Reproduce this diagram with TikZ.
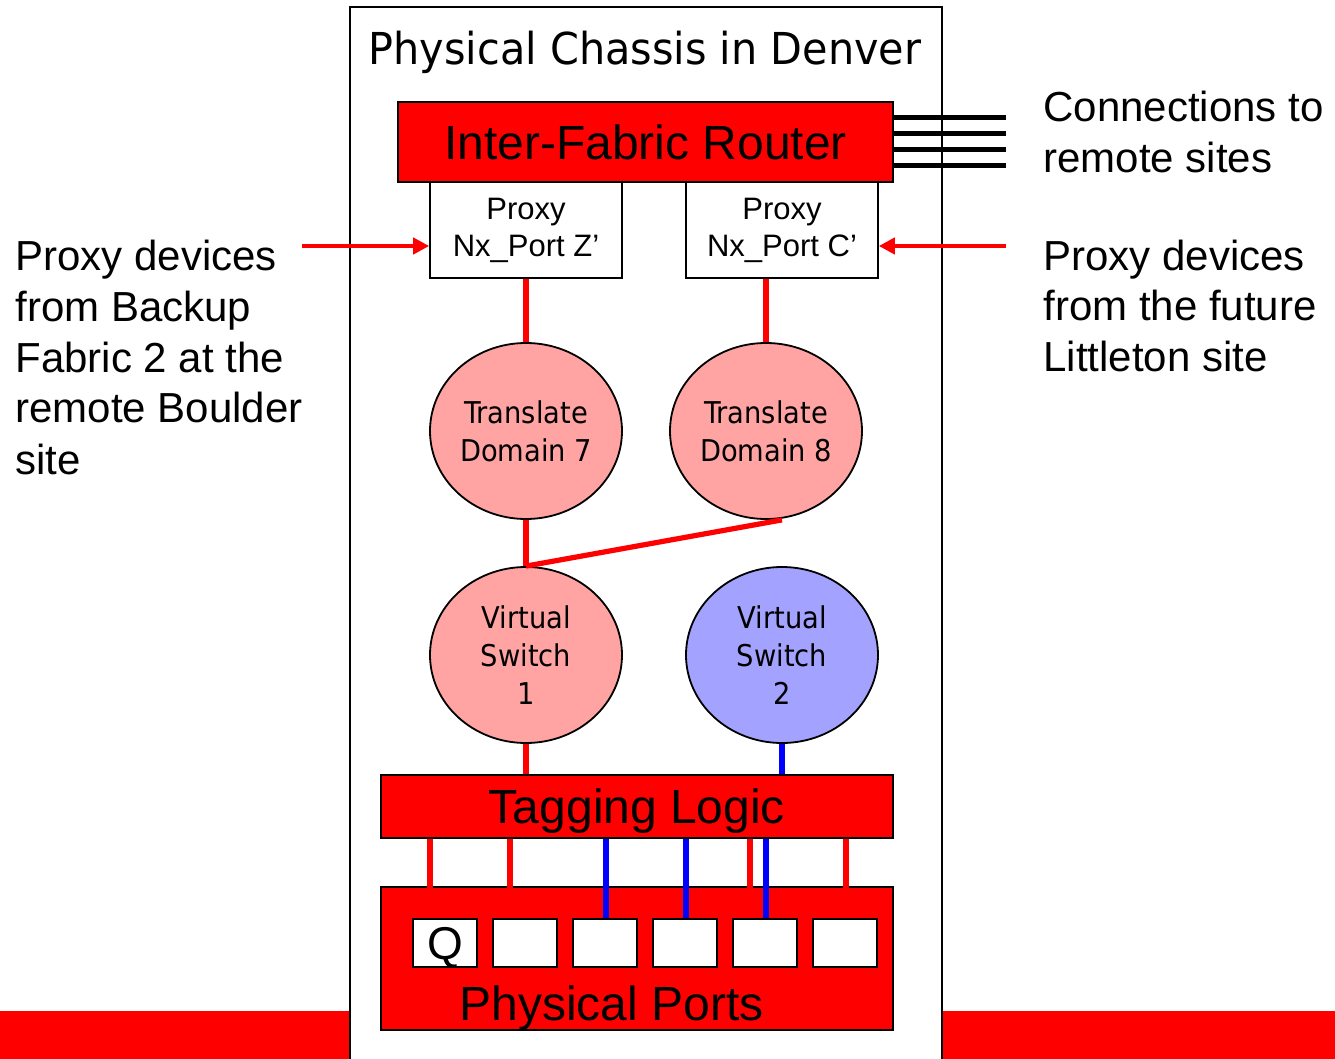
\documentclass[tikz,border=0pt]{standalone}
\usepackage{fontspec}
\setmainfont{Liberation Sans}
\newfontfamily\tah[FakeStretch=0.91]{DejaVu Sans}
\newfontfamily\tahT[FakeStretch=0.94]{DejaVu Sans}
\usetikzlibrary{arrows.meta,calc,shapes.geometric}
\definecolor{pinkfill}{HTML}{FFA3A3}
\definecolor{lavfill}{HTML}{A3A3FF}
\begin{document}
\begin{tikzpicture}[x=0.5pt,y=-0.5pt,
 redbox/.style={draw=black,line width=1.3pt,fill=red,inner sep=0pt},
 proxybox/.style={draw=black,line width=0.8pt,fill=white,minimum width=96pt,minimum height=48pt,inner sep=0pt,align=center,font=\fontsize{15.5}{18.5}\selectfont},
 ovalnode/.style={ellipse,draw=black,line width=0.9pt,minimum width=96pt,minimum height=88pt,inner sep=0pt,align=center,font=\tah\fontsize{15}{19}\selectfont},
 portbox/.style={draw=black,line width=1.2pt,fill=white,minimum width=32pt,minimum height=24pt,inner sep=0pt},
 redline/.style={red,line width=2.6pt},
 blueline/.style={blue,line width=2.8pt},
 cable/.style={black,line width=2.5pt},
 pointer/.style={red,line width=2pt,-{Triangle[length=8pt,width=8pt]}},
 note/.style={anchor=base west,align=left,inner sep=0pt,font=\fontsize{21}{25.5}\selectfont},
 bigtext/.style={font=\fontsize{24}{28}\selectfont}]

\useasboundingbox (0,0) rectangle (1335,1059);
\clip (0,0) rectangle (1335,1059);
\fill[red] (0,1011) rectangle (1335,1059);
\draw[line width=1pt,fill=white] (350,7) rectangle (942,1080);

\node[font=\tahT\fontsize{22}{26}\selectfont,anchor=base,inner sep=0pt] (title) at (645,65) {Physical Chassis in Denver};

% cables to remote sites
\coordinate (cend) at (1006,142);
\node[redbox,minimum width=247.5pt,minimum height=40pt,bigtext,text depth=0pt] (router) at (645.5,142) {Inter-Fabric Router};
\foreach \s in {12,4,-4,-12}
  \draw[cable] ([yshift=\s pt]router.east) -- ([yshift=\s pt]router.east -| cend);

\node[proxybox] (pz) at (526,230) {Proxy\\Nx\_Port Z’};
\node[proxybox] (pc) at (782,230) {Proxy\\Nx\_Port C’};

\node[ovalnode,fill=pinkfill] (td7) at (526,431) {Translate\\Domain 7};
\node[ovalnode,fill=pinkfill] (td8) at (766,431) {Translate\\Domain 8};
\node[ovalnode,fill=pinkfill] (vs1) at (526,655) {Virtual\\Switch\\1};
\node[ovalnode,fill=lavfill] (vs2) at (782,655) {Virtual\\Switch\\2};

\node[redbox,line width=1.4pt,minimum width=256pt,minimum height=31.5pt,bigtext,text depth=0pt] (tag) at (637,806.5) {Tagging Logic};
\node[redbox,line width=1.4pt,minimum width=256pt,minimum height=71.5pt] (pp) at (637,958.5) {};
\node[bigtext,anchor=base,inner sep=0pt] (pplabel) at (611.5,1020) {Physical Ports};

\node[portbox,font=\fontsize{23}{26}\selectfont,text depth=0pt] (p1) at (445,943) {Q};
\node[portbox] (p2) at (525,943) {};
\node[portbox] (p3) at (605,943) {};
\node[portbox] (p4) at (685,943) {};
\node[portbox] (p5) at (765,943) {};
\node[portbox] (p6) at (845,943) {};

% connectors
\draw[redline] (pz.south) -- (td7.north);
\draw[redline] ([xshift=-8pt]pc.south) -- (td8.north);
\draw[redline] (td7.south) -- (vs1.north);
\draw[redline] ([xshift=8pt]td8.south) -- (vs1.north);
\draw[redline] (vs1.south) -- (vs1.south |- tag.north);
\draw[blueline] (vs2.south) -- (vs2.south |- tag.north);

\draw[redline] ([xshift=-7.5pt]p1.north) -- ([xshift=-7.5pt]p1.north |- tag.south);
\draw[redline] ([xshift=-7.5pt]p2.north) -- ([xshift=-7.5pt]p2.north |- tag.south);
\draw[blueline] ([xshift=0.5pt]p3.north) -- ([xshift=0.5pt]p3.north |- tag.south);
\draw[blueline] ([xshift=0.5pt]p4.north) -- ([xshift=0.5pt]p4.north |- tag.south);
\draw[redline] ([xshift=-7.5pt]p5.north) -- ([xshift=-7.5pt]p5.north |- tag.south);
\draw[blueline] ([xshift=0.5pt]p5.north) -- ([xshift=0.5pt]p5.north |- tag.south);
\draw[redline] ([xshift=0.5pt]p6.north) -- ([xshift=0.5pt]p6.north |- tag.south);

% notes
\node[note] (leftnote) at (15,474) {Proxy devices\\from Backup\\Fabric 2 at the\\remote Boulder\\site};
\node[note] (conn) at (1043,173) {Connections to\\remote sites};
\node[note] (rightnote) at (1043,372) {Proxy devices\\from the future\\Littleton site};

\coordinate (la) at (302,246);
\coordinate (ra) at (1006,246);
\draw[pointer] (la) -- ([yshift=-8pt]pz.west);
\draw[pointer] (ra) -- ([yshift=-8pt]pc.east);
\end{tikzpicture}
\end{document}
